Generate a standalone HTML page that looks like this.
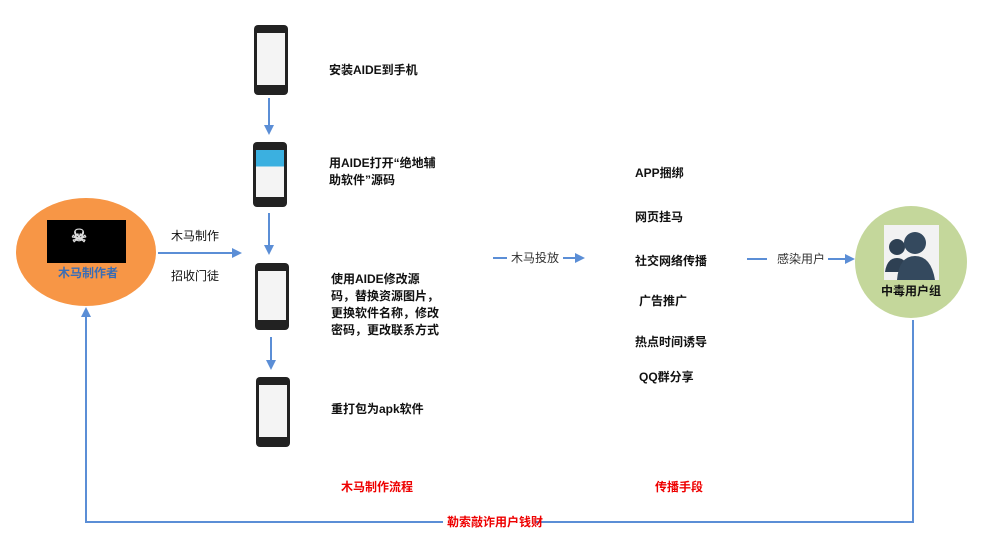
<!DOCTYPE html>
<html><head><meta charset="utf-8"><style>
body{margin:0;width:984px;height:549px;background:#fff;position:relative;overflow:hidden;font-family:"Liberation Sans","Noto Sans CJK SC",sans-serif;}
.t{position:absolute;font-size:12px;font-weight:bold;color:#111;line-height:17px;white-space:nowrap}
.ph{position:absolute;width:34px;background:#222;border-radius:4px}
.ph i{position:absolute;left:3px;right:3px;top:8px;bottom:10px;background:#f4f4f4}
</style></head><body>
<svg width="984" height="549" style="position:absolute;left:0;top:0">
<defs><marker id="a" markerWidth="10" markerHeight="10" refX="8" refY="5" orient="auto" markerUnits="userSpaceOnUse"><path d="M0,0 L10,5 L0,10z" fill="#5b8ed6"/></marker></defs>
<g stroke="#5b8ed6" stroke-width="2" fill="none">
<line x1="269" y1="98" x2="269" y2="133" marker-end="url(#a)"/>
<line x1="269" y1="213" x2="269" y2="253" marker-end="url(#a)"/>
<line x1="271" y1="337" x2="271" y2="368" marker-end="url(#a)"/>
<line x1="158" y1="253" x2="240" y2="253" marker-end="url(#a)"/>
<line x1="493" y1="258" x2="507" y2="258"/>
<line x1="563" y1="258" x2="583" y2="258" marker-end="url(#a)"/>
<line x1="747" y1="259" x2="767" y2="259"/>
<line x1="828" y1="259" x2="853" y2="259" marker-end="url(#a)"/>
<polyline points="913,320 913,522 535,522"/>
<polyline points="443,522 86,522 86,309" marker-end="url(#a)"/>
</g>
<ellipse cx="86" cy="252" rx="70" ry="54" fill="#f79646"/>
<rect x="47" y="220" width="79" height="43" fill="#000"/>
<circle cx="911" cy="262" r="56" fill="#c4d79b"/>
<rect x="884" y="225" width="55" height="55" fill="#f2f2f2"/>
<circle cx="897" cy="247" r="8" fill="#2e4053"/><path d="M885,272 q2,-14 12,-14 q10,0 12,14z" fill="#2e4053"/>
<circle cx="915" cy="243" r="11" fill="#34495e"/><path d="M897,280 q2,-24 18,-24 q16,0 20,24z" fill="#34495e"/>
</svg>
<div class="t" style="left:58px;top:265px;color:#3a6db5">木马制作者</div>
<div class="t" style="left:71px;top:228px;color:#ddd;font-size:18px">☠</div>
<div class="t" style="left:171px;top:228px;font-weight:normal">木马制作</div>
<div class="t" style="left:171px;top:268px;font-weight:normal">招收门徒</div>
<div class="ph" style="left:254px;top:25px;height:70px"><i></i></div>
<div class="ph" style="left:253px;top:142px;height:65px"><i style="background:linear-gradient(#3bb0e0 0 35%,#f4f4f4 35%)"></i></div>
<div class="ph" style="left:255px;top:263px;height:67px"><i></i></div>
<div class="ph" style="left:256px;top:377px;height:70px"><i></i></div>
<div class="t" style="left:329px;top:62px">安装AIDE到手机</div>
<div class="t" style="left:329px;top:155px">用AIDE打开“绝地辅<br>助软件”源码</div>
<div class="t" style="left:331px;top:271px">使用AIDE修改源<br>码，替换资源图片，<br>更换软件名称，修改<br>密码，更改联系方式</div>
<div class="t" style="left:331px;top:401px">重打包为apk软件</div>
<div class="t" style="left:341px;top:479px;color:#e00">木马制作流程</div>
<div class="t" style="left:511px;top:250px;font-weight:normal;color:#333">木马投放</div>
<div class="t" style="left:635px;top:165px">APP捆绑</div>
<div class="t" style="left:635px;top:209px">网页挂马</div>
<div class="t" style="left:635px;top:253px">社交网络传播</div>
<div class="t" style="left:639px;top:293px">广告推广</div>
<div class="t" style="left:635px;top:334px">热点时间诱导</div>
<div class="t" style="left:639px;top:369px">QQ群分享</div>
<div class="t" style="left:655px;top:479px;color:#e00">传播手段</div>
<div class="t" style="left:777px;top:251px;font-weight:normal;color:#333">感染用户</div>
<div class="t" style="left:881px;top:283px">中毒用户组</div>
<div class="t" style="left:447px;top:514px;color:#e00">勒索敲诈用户钱财</div>
</body></html>
